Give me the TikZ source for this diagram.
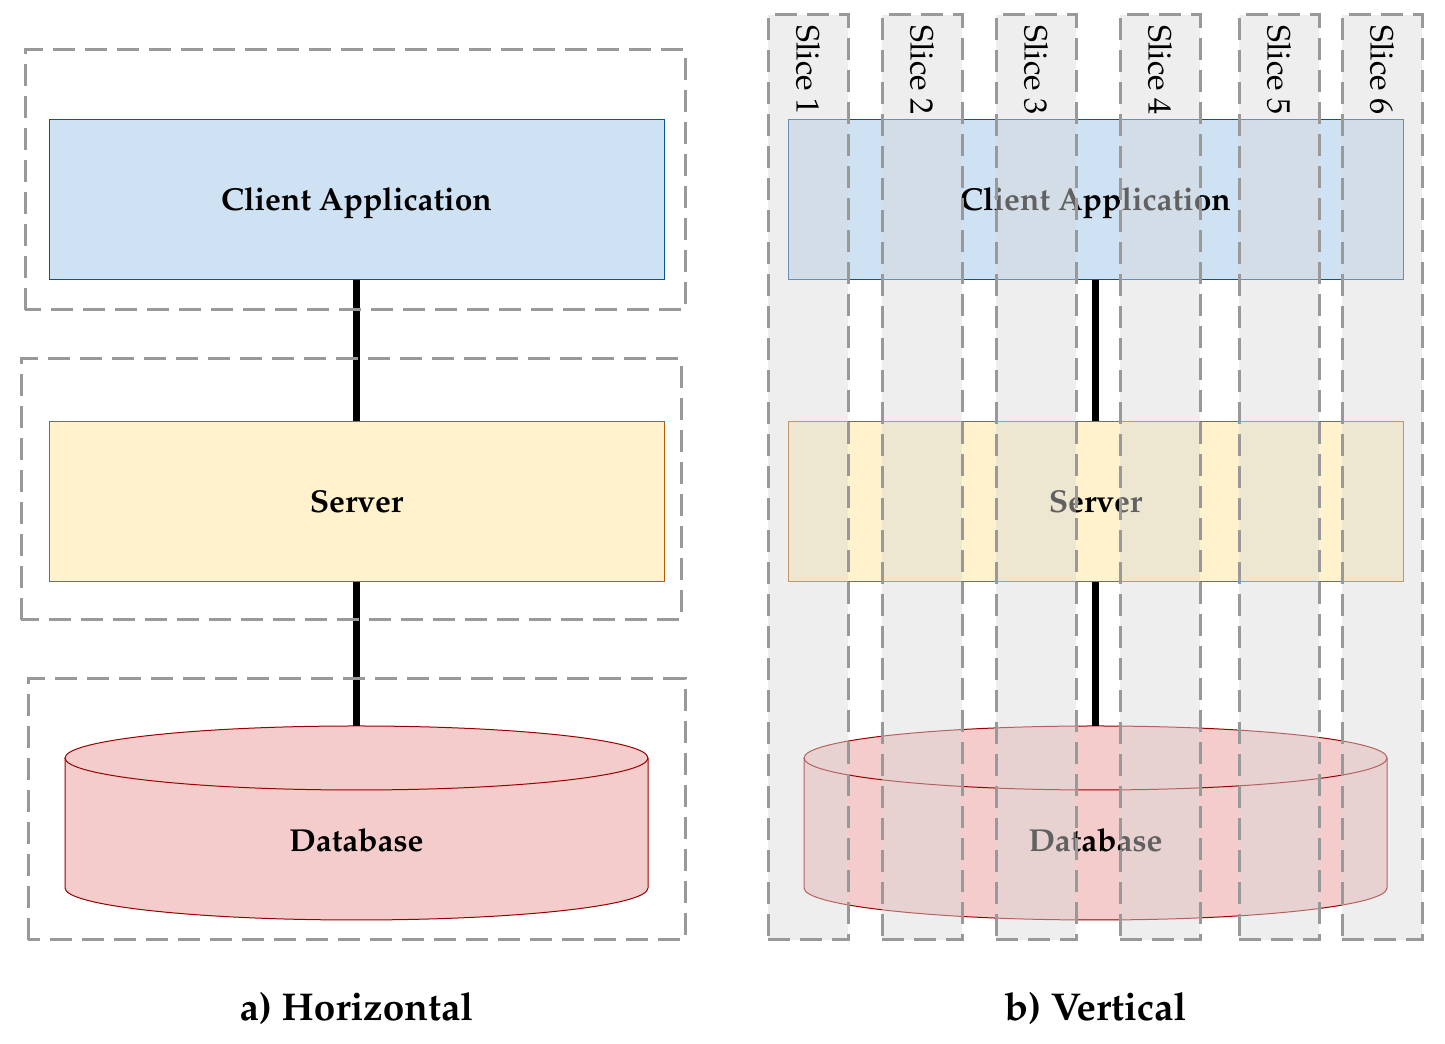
\documentclass[tikz,border=0pt]{standalone}
\usepackage[T1]{fontenc}
\usepackage{mathpazo}

\definecolor{clientfill}{HTML}{CFE2F3}
\definecolor{clientline}{HTML}{0B5394}
\definecolor{serverfill}{HTML}{FFF2CC}
\definecolor{serverline}{HTML}{B45F06}
\definecolor{dbfill}{HTML}{F4CCCC}
\definecolor{dbline}{HTML}{990000}
\definecolor{dashgray}{HTML}{999999}
\definecolor{slicegray}{HTML}{D9D9D9}

\tikzset{
  layerbox/.style={draw, line width=0.4pt, inner sep=0pt,
    minimum width=615*0.4pt, minimum height=160*0.4pt,
    text height=0.88em, text depth=0pt,
    font=\fontsize{12.7}{15}\selectfont\bfseries},
  clientbox/.style={layerbox, fill=clientfill, draw=clientline},
  serverbox/.style={layerbox, fill=serverfill, draw=serverline},
  dbtext/.style={inner sep=0pt, text height=0.88em, text depth=0pt,
    font=\fontsize{12.7}{15}\selectfont\bfseries},
  link/.style={line width=2.8pt},
  groupbox/.style={draw=dashgray, line width=1.2pt, dash pattern=on 8.8pt off 4pt},
  slicebox/.style={groupbox, fill=slicegray, fill opacity=0.45, inner sep=0pt,
    minimum width=80*0.4pt, minimum height=925*0.4pt},
  slicelabel/.style={rotate=-90, anchor=west, inner sep=0pt,
    font=\fontsize{12.9}{15}\selectfont},
  caption/.style={anchor=base, inner sep=0pt,
    font=\fontsize{15.5}{18}\selectfont\bfseries}
}

\begin{document}
\begin{tikzpicture}[x=0.4pt, y=0.4pt]

\def\xl{356.5}; % left column
\def\xr{\xl + 739}; % right column
\def\ycl{844.5}; % client
\def\ysv{542}; % server
\def\ydt{286}; % db top ellipse
\def\ydb{156}; % db bottom ellipse
\def\rx{291.5};
\def\ry{32};
\def\ys{566.5}; % slices

\useasboundingbox (0, 0) rectangle (1445, 1044);

% a) horizontal
\node[clientbox] (cla) at (\xl, \ycl) {Client Application};
\node[serverbox] (srva) at (\xl, \ysv) {Server};

\filldraw[fill=dbfill, draw=dbline, line width=0.4pt] (\xl - \rx, \ydt) -- (\xl - \rx, \ydb)
  arc[start angle=180, end angle=360, x radius=116.6pt, y radius=12.8pt]
  -- (\xl + \rx, \ydt)
  arc[start angle=0, end angle=180, x radius=116.6pt, y radius=12.8pt] -- cycle;
\draw[dbline, line width=0.4pt] (\xl - \rx, \ydt) arc[start angle=180, end angle=360, x radius=116.6pt, y radius=12.8pt];
\node[dbtext] (dba) at (\xl, 203) {Database};
\coordinate (dbatop) at (\xl, \ydt + \ry);

\draw[link] (cla) -- (srva);
\draw[link] (srva) -- (dbatop);

\draw[groupbox] (25, 734) rectangle (685, 994);
\draw[groupbox] (21, 424) rectangle (681, 685);
\draw[groupbox] (28, 104) rectangle (685, 365);

\node[caption] (capa) at (\xl, 23) {a) Horizontal};

% b) vertical
\node[clientbox] (clb) at (\xr, \ycl) {Client Application};
\node[serverbox] (srvb) at (\xr, \ysv) {Server};

\filldraw[fill=dbfill, draw=dbline, line width=0.4pt] (\xr - \rx, \ydt) -- (\xr - \rx, \ydb)
  arc[start angle=180, end angle=360, x radius=116.6pt, y radius=12.8pt]
  -- (\xr + \rx, \ydt)
  arc[start angle=0, end angle=180, x radius=116.6pt, y radius=12.8pt] -- cycle;
\draw[dbline, line width=0.4pt] (\xr - \rx, \ydt) arc[start angle=180, end angle=360, x radius=116.6pt, y radius=12.8pt];
\node[dbtext] (dbb) at (\xr, 203) {Database};
\coordinate (dbbtop) at (\xr, \ydt + \ry);

\draw[link] (clb) -- (srvb);
\draw[link] (srvb) -- (dbbtop);

\node[slicebox] (s1) at (808, \ys) {};
\node[slicebox] (s2) at (922, \ys) {};
\node[slicebox] (s3) at (1036, \ys) {};
\node[slicebox] (s4) at (1160, \ys) {};
\node[slicebox] (s5) at (1279, \ys) {};
\node[slicebox] (s6) at (1382, \ys) {};

\node[slicelabel] (l1) at (808, 1019) {Slice 1};
\node[slicelabel] (l2) at (922, 1019) {Slice 2};
\node[slicelabel] (l3) at (1036, 1019) {Slice 3};
\node[slicelabel] (l4) at (1160, 1019) {Slice 4};
\node[slicelabel] (l5) at (1279, 1019) {Slice 5};
\node[slicelabel] (l6) at (1382, 1019) {Slice 6};

\node[caption] (capb) at (\xr, 23) {b) Vertical};

\end{tikzpicture}
\end{document}
